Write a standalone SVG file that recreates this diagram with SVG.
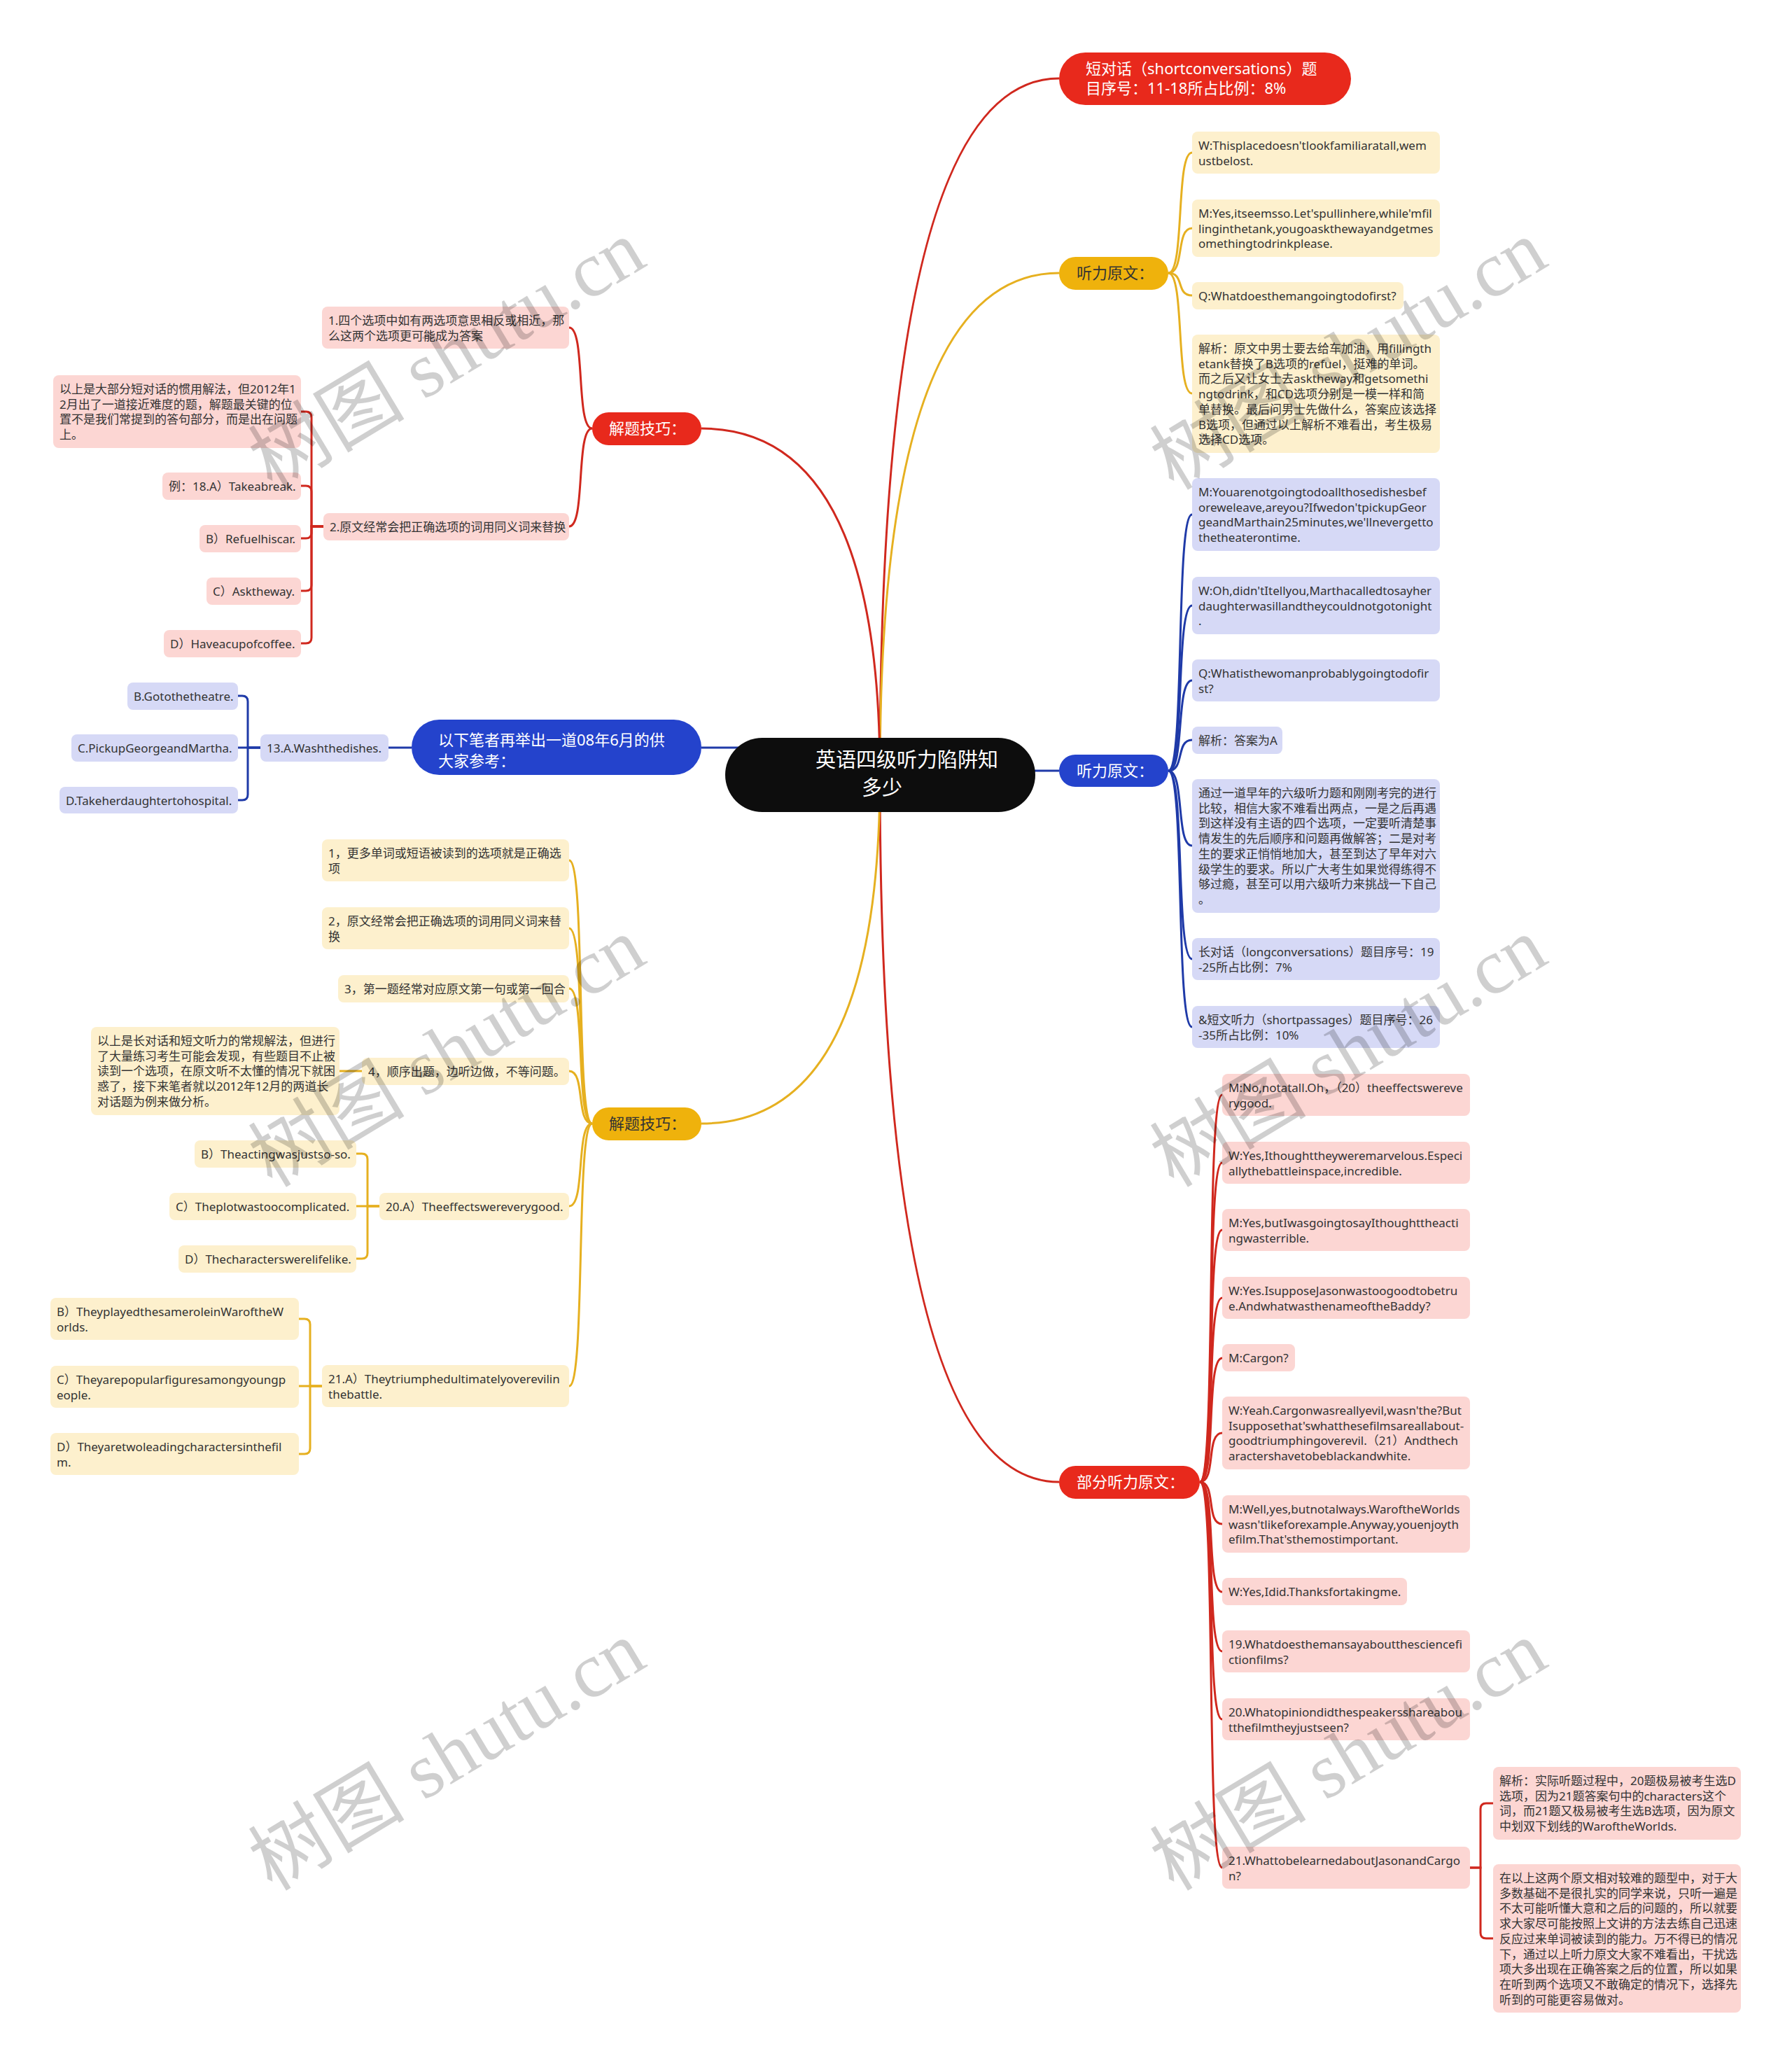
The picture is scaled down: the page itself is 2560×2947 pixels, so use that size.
<svg xmlns="http://www.w3.org/2000/svg" width="2560" height="2947" viewBox="0 0 2560 2947">
<style>
.t{font-family:"Noto Sans","Noto Sans CJK SC",sans-serif;font-size:17px;fill:#333}
.tw{font-family:"Noto Sans","Noto Sans CJK SC",sans-serif;font-size:22px;fill:#fff}
.td{font-family:"Noto Sans","Noto Sans CJK SC",sans-serif;font-size:22px;fill:#333}
.tc{font-family:"Noto Sans CJK SC",sans-serif;font-size:29px;fill:#fff}
.rb{fill:#fcd6d3}.yb{fill:#fdf0cd}.bb{fill:#d6d9f6}
.rn{fill:#e8291c}.yn{fill:#efb20c}.bn{fill:#2443cc}
.cr{fill:none;stroke:#d0281e;stroke-width:3}
.cy{fill:none;stroke:#e6b020;stroke-width:3}
.cb{fill:none;stroke:#1f3aa8;stroke-width:3}
.wm{font-family:"Liberation Serif","Noto Sans CJK SC",serif;font-size:112px;fill:#000;fill-opacity:0.19}
</style>
<rect width="2560" height="2947" fill="#fff"/>
<g id="connectors">
<path class="cr" d="M1257,1107 Q1257,112 1513,112" stroke="#c0261c"/>
<path class="cy" d="M1257,1107 Q1257,390 1513,390"/>
<path class="cr" d="M1257,1107 Q1257,2117 1513,2117"/>
<path class="cr" d="M1257,1107 Q1257,612 1002,612"/>
<path class="cy" d="M1257,1107 Q1257,1605 1002,1605"/>
<path class="cb" d="M1300,1101 H1513"/>
<path class="cb" d="M1002,1068 H1200"/>
<path class="cy" d="M1669,390 C1693,390 1679,218 1703,218"/>
<path class="cy" d="M1669,390 C1693,390 1679,326 1703,326"/>
<path class="cy" d="M1669,390 C1693,390 1679,422 1703,422"/>
<path class="cy" d="M1669,390 C1693,390 1679,562 1703,562"/>
<path class="cb" d="M1669,1101 C1693,1101 1679,735 1703,735"/>
<path class="cb" d="M1669,1101 C1693,1101 1679,865 1703,865"/>
<path class="cb" d="M1669,1101 C1693,1101 1679,972 1703,972"/>
<path class="cb" d="M1669,1101 C1693,1101 1679,1057 1703,1057"/>
<path class="cb" d="M1669,1101 C1693,1101 1679,1208 1703,1208"/>
<path class="cb" d="M1669,1101 C1693,1101 1679,1370 1703,1370"/>
<path class="cb" d="M1669,1101 C1693,1101 1679,1467 1703,1467"/>
<path class="cr" d="M1714,2117 C1738,2117 1722,1564 1746,1564"/>
<path class="cr" d="M1714,2117 C1738,2117 1722,1661 1746,1661"/>
<path class="cr" d="M1714,2117 C1738,2117 1722,1757 1746,1757"/>
<path class="cr" d="M1714,2117 C1738,2117 1722,1854 1746,1854"/>
<path class="cr" d="M1714,2117 C1738,2117 1722,1940 1746,1940"/>
<path class="cr" d="M1714,2117 C1738,2117 1722,2047 1746,2047"/>
<path class="cr" d="M1714,2117 C1738,2117 1722,2177 1746,2177"/>
<path class="cr" d="M1714,2117 C1738,2117 1722,2274 1746,2274"/>
<path class="cr" d="M1714,2117 C1738,2117 1722,2359 1746,2359"/>
<path class="cr" d="M1714,2117 C1738,2117 1722,2456 1746,2456"/>
<path class="cr" d="M1714,2117 C1738,2117 1722,2668 1746,2668"/>
<path class="cr" d="M2100,2668 H2115 V2584 Q2115,2576 2123,2576 H2133"/>
<path class="cr" d="M2100,2668 H2115 V2761 Q2115,2769 2123,2769 H2133"/>
<path class="cr" d="M846,612 C822,612 837,468 813,468"/>
<path class="cr" d="M846,612 C822,612 837,752 813,752"/>
<path class="cr" d="M462,752 H445 V596 Q445,588 437,588 H430"/>
<path class="cr" d="M462,752 H445 V702 Q445,694 437,694 H430"/>
<path class="cr" d="M462,752 H445 V761 Q445,769 437,769 H430"/>
<path class="cr" d="M462,752 H445 V836 Q445,844 437,844 H430"/>
<path class="cr" d="M462,752 H445 V911 Q445,919 437,919 H430"/>
<path class="cb" d="M588,1068 H555"/>
<path class="cb" d="M372,1068 H354 V1002 Q354,994 346,994 H340"/>
<path class="cb" d="M372,1068 H340"/>
<path class="cb" d="M372,1068 H354 V1135 Q354,1143 346,1143 H340"/>
<path class="cy" d="M846,1605 C822,1605 837,1229 813,1229"/>
<path class="cy" d="M846,1605 C822,1605 837,1326 813,1326"/>
<path class="cy" d="M846,1605 C822,1605 837,1412 813,1412"/>
<path class="cy" d="M846,1605 C822,1605 837,1530 813,1530"/>
<path class="cy" d="M846,1605 C822,1605 837,1723 813,1723"/>
<path class="cy" d="M846,1605 C822,1605 837,1980 813,1980"/>
<path class="cy" d="M517,1530 H485"/>
<path class="cy" d="M542,1723 H525 V1656 Q525,1648 517,1648 H509"/>
<path class="cy" d="M542,1723 H509"/>
<path class="cy" d="M542,1723 H525 V1790 Q525,1798 517,1798 H509"/>
<path class="cy" d="M460,1980 H443 V1892 Q443,1884 435,1884 H427"/>
<path class="cy" d="M460,1980 H427"/>
<path class="cy" d="M460,1980 H443 V2069 Q443,2077 435,2077 H427"/>
</g>

<g id="center">
<rect x="1036" y="1054" width="443" height="106" rx="53" fill="#0d0d0d"/>
<text class="tc" x="1165" y="1096">英语四级听力陷阱知</text>
<text class="tc" x="1231" y="1136">多少</text>
</g>

<g id="n-short">
<rect class="rn" x="1513" y="75" width="417" height="75" rx="37.5"/>
<text class="tw" x="1551" y="106">短对话（shortconversations）题<tspan x="1551" dy="28">目序号：11-18所占比例：8%</tspan></text>
</g>
<g id="n-ytop">
<rect class="yn" x="1513" y="367" width="156" height="47" rx="23.5"/>
<text class="td" x="1538" y="398">听力原文：</text>
</g>
<g id="yt1"><rect class="yb" x="1703" y="188" width="354" height="60" rx="8"/>
<text class="t" x="1712" y="214">W:Thisplacedoesn'tlookfamiliaratall,wem<tspan x="1712" dy="21.7">ustbelost.</tspan></text></g>
<g id="yt2"><rect class="yb" x="1703" y="285" width="354" height="82" rx="8"/>
<text class="t" x="1712" y="311">M:Yes,itseemsso.Let'spullinhere,while'mfil<tspan x="1712" dy="21.7">linginthetank,yougoaskthewayandgetmes</tspan><tspan x="1712" dy="21.7">omethingtodrinkplease.</tspan></text></g>
<g id="yt3"><rect class="yb" x="1703" y="403" width="302" height="39" rx="8"/>
<text class="t" x="1712" y="429">Q:Whatdoesthemangoingtodofirst?</text></g>
<g id="yt4"><rect class="yb" x="1703" y="478" width="354" height="169" rx="8"/>
<text class="t" x="1712" y="504">解析：原文中男士要去给车加油，用fillingth<tspan x="1712" dy="21.7">etank替换了B选项的refuel，挺难的单词。</tspan><tspan x="1712" dy="21.7">而之后又让女士去asktheway和getsomethi</tspan><tspan x="1712" dy="21.7">ngtodrink，和CD选项分别是一模一样和简</tspan><tspan x="1712" dy="21.7">单替换。最后问男士先做什么，答案应该选择</tspan><tspan x="1712" dy="21.7">B选项，但通过以上解析不难看出，考生极易</tspan><tspan x="1712" dy="21.7">选择CD选项。</tspan></text></g>

<g id="n-blue-r">
<rect class="bn" x="1513" y="1078" width="156" height="46" rx="23"/>
<text class="tw" x="1538" y="1109">听力原文：</text>
</g>
<g id="b1"><rect class="bb" x="1703" y="683" width="354" height="104" rx="8"/>
<text class="t" x="1712" y="709">M:Youarenotgoingtodoallthosedishesbef<tspan x="1712" dy="21.7">oreweleave,areyou?Ifwedon'tpickupGeor</tspan><tspan x="1712" dy="21.7">geandMarthain25minutes,we'llnevergetto</tspan><tspan x="1712" dy="21.7">thetheaterontime.</tspan></text></g>
<g id="b2"><rect class="bb" x="1703" y="824" width="354" height="82" rx="8"/>
<text class="t" x="1712" y="850">W:Oh,didn'tItellyou,Marthacalledtosayher<tspan x="1712" dy="21.7">daughterwasillandtheycouldnotgotonight</tspan><tspan x="1712" dy="21.7">.</tspan></text></g>
<g id="b3"><rect class="bb" x="1703" y="942" width="354" height="60" rx="8"/>
<text class="t" x="1712" y="968">Q:Whatisthewomanprobablygoingtodofir<tspan x="1712" dy="21.7">st?</tspan></text></g>
<g id="b4"><rect class="bb" x="1703" y="1038" width="129" height="39" rx="8"/>
<text class="t" x="1712" y="1064">解析：答案为A</text></g>
<g id="b5"><rect class="bb" x="1703" y="1113" width="354" height="191" rx="8"/>
<text class="t" x="1712" y="1139">通过一道早年的六级听力题和刚刚考完的进行<tspan x="1712" dy="21.7">比较，相信大家不难看出两点，一是之后再遇</tspan><tspan x="1712" dy="21.7">到这样没有主语的四个选项，一定要听清楚事</tspan><tspan x="1712" dy="21.7">情发生的先后顺序和问题再做解答；二是对考</tspan><tspan x="1712" dy="21.7">生的要求正悄悄地加大，甚至到达了早年对六</tspan><tspan x="1712" dy="21.7">级学生的要求。所以广大考生如果觉得练得不</tspan><tspan x="1712" dy="21.7">够过瘾，甚至可以用六级听力来挑战一下自己</tspan><tspan x="1712" dy="21.7">。</tspan></text></g>
<g id="b6"><rect class="bb" x="1703" y="1340" width="354" height="60" rx="8"/>
<text class="t" x="1712" y="1366">长对话（longconversations）题目序号：19<tspan x="1712" dy="21.7">-25所占比例：7%</tspan></text></g>
<g id="b7"><rect class="bb" x="1703" y="1437" width="354" height="60" rx="8"/>
<text class="t" x="1712" y="1463">&amp;短文听力（shortpassages）题目序号：26<tspan x="1712" dy="21.7">-35所占比例：10%</tspan></text></g>

<g id="n-part">
<rect class="rn" x="1513" y="2094" width="201" height="47" rx="23.5"/>
<text class="tw" x="1538" y="2125">部分听力原文：</text>
</g>
<g id="r1"><rect class="rb" x="1746" y="1534" width="354" height="60" rx="8"/>
<text class="t" x="1755" y="1560">M:No,notatall.Oh，（20）theeffectswereve<tspan x="1755" dy="21.7">rygood.</tspan></text></g>
<g id="r2"><rect class="rb" x="1746" y="1631" width="354" height="60" rx="8"/>
<text class="t" x="1755" y="1657">W:Yes,Ithoughttheyweremarvelous.Especi<tspan x="1755" dy="21.7">allythebattleinspace,incredible.</tspan></text></g>
<g id="r3"><rect class="rb" x="1746" y="1727" width="354" height="60" rx="8"/>
<text class="t" x="1755" y="1753">M:Yes,butIwasgoingtosayIthoughttheacti<tspan x="1755" dy="21.7">ngwasterrible.</tspan></text></g>
<g id="r4"><rect class="rb" x="1746" y="1824" width="354" height="60" rx="8"/>
<text class="t" x="1755" y="1850">W:Yes.IsupposeJasonwastoogoodtobetru<tspan x="1755" dy="21.7">e.AndwhatwasthenameoftheBaddy?</tspan></text></g>
<g id="r5"><rect class="rb" x="1746" y="1920" width="104" height="39" rx="8"/>
<text class="t" x="1755" y="1946">M:Cargon?</text></g>
<g id="r6"><rect class="rb" x="1746" y="1995" width="354" height="104" rx="8"/>
<text class="t" x="1755" y="2021">W:Yeah.Cargonwasreallyevil,wasn'the?But<tspan x="1755" dy="21.7">Isupposethat'swhatthesefilmsareallabout-</tspan><tspan x="1755" dy="21.7">goodtriumphingoverevil.（21）Andthech</tspan><tspan x="1755" dy="21.7">aractershavetobeblackandwhite.</tspan></text></g>
<g id="r7"><rect class="rb" x="1746" y="2136" width="354" height="82" rx="8"/>
<text class="t" x="1755" y="2162">M:Well,yes,butnotalways.WaroftheWorlds<tspan x="1755" dy="21.7">wasn'tlikeforexample.Anyway,youenjoyth</tspan><tspan x="1755" dy="21.7">efilm.That'sthemostimportant.</tspan></text></g>
<g id="r8"><rect class="rb" x="1746" y="2254" width="264" height="39" rx="8"/>
<text class="t" x="1755" y="2280">W:Yes,Idid.Thanksfortakingme.</text></g>
<g id="r9"><rect class="rb" x="1746" y="2329" width="354" height="60" rx="8"/>
<text class="t" x="1755" y="2355">19.Whatdoesthemansayaboutthesciencefi<tspan x="1755" dy="21.7">ctionfilms?</tspan></text></g>
<g id="r10"><rect class="rb" x="1746" y="2426" width="354" height="60" rx="8"/>
<text class="t" x="1755" y="2452">20.Whatopiniondidthespeakersshareabou<tspan x="1755" dy="21.7">tthefilmtheyjustseen?</tspan></text></g>
<g id="r11"><rect class="rb" x="1746" y="2638" width="354" height="60" rx="8"/>
<text class="t" x="1755" y="2664">21.WhattobelearnedaboutJasonandCargo<tspan x="1755" dy="21.7">n?</tspan></text></g>
<g id="c1"><rect class="rb" x="2133" y="2524" width="354" height="104" rx="8"/>
<text class="t" x="2142" y="2550">解析：实际听题过程中，20题极易被考生选D<tspan x="2142" dy="21.7">选项，因为21题答案句中的characters这个</tspan><tspan x="2142" dy="21.7">词，而21题又极易被考生选B选项，因为原文</tspan><tspan x="2142" dy="21.7">中划双下划线的WaroftheWorlds.</tspan></text></g>
<g id="c2"><rect class="rb" x="2133" y="2663" width="354" height="212" rx="8"/>
<text class="t" x="2142" y="2689">在以上这两个原文相对较难的题型中，对于大<tspan x="2142" dy="21.7">多数基础不是很扎实的同学来说，只听一遍是</tspan><tspan x="2142" dy="21.7">不太可能听懂大意和之后的问题的，所以就要</tspan><tspan x="2142" dy="21.7">求大家尽可能按照上文讲的方法去练自己迅速</tspan><tspan x="2142" dy="21.7">反应过来单词被读到的能力。万不得已的情况</tspan><tspan x="2142" dy="21.7">下，通过以上听力原文大家不难看出，干扰选</tspan><tspan x="2142" dy="21.7">项大多出现在正确答案之后的位置，所以如果</tspan><tspan x="2142" dy="21.7">在听到两个选项又不敢确定的情况下，选择先</tspan><tspan x="2142" dy="21.7">听到的可能更容易做对。</tspan></text></g>

<g id="n-tips-red">
<rect class="rn" x="846" y="589" width="156" height="47" rx="23.5"/>
<text class="tw" x="870" y="620">解题技巧：</text>
</g>
<g id="l1"><rect class="rb" x="460" y="438" width="353" height="60" rx="8"/>
<text class="t" x="469" y="464">1.四个选项中如有两选项意思相反或相近，那<tspan x="469" dy="21.7">么这两个选项更可能成为答案</tspan></text></g>
<g id="l2"><rect class="rb" x="462" y="733" width="351" height="39" rx="8"/>
<text class="t" x="471" y="759">2.原文经常会把正确选项的词用同义词来替换</text></g>
<g id="k1"><rect class="rb" x="76" y="536" width="354" height="104" rx="8"/>
<text class="t" x="85" y="562">以上是大部分短对话的惯用解法，但2012年1<tspan x="85" dy="21.7">2月出了一道接近难度的题，解题最关键的位</tspan><tspan x="85" dy="21.7">置不是我们常提到的答句部分，而是出在问题</tspan><tspan x="85" dy="21.7">上。</tspan></text></g>
<g id="k2"><rect class="rb" x="232" y="675" width="198" height="39" rx="8"/>
<text class="t" x="241" y="701">例：18.A）Takeabreak.</text></g>
<g id="k3"><rect class="rb" x="285" y="750" width="145" height="39" rx="8"/>
<text class="t" x="294" y="776">B）Refuelhiscar.</text></g>
<g id="k4"><rect class="rb" x="295" y="825" width="135" height="39" rx="8"/>
<text class="t" x="304" y="851">C）Asktheway.</text></g>
<g id="k5"><rect class="rb" x="234" y="900" width="196" height="39" rx="8"/>
<text class="t" x="243" y="926">D）Haveacupofcoffee.</text></g>

<g id="n-blue-l">
<rect class="bn" x="588" y="1028" width="414" height="79" rx="39.5"/>
<text class="tw" x="626" y="1065">以下笔者再举出一道08年6月的供<tspan x="626" dy="30">大家参考：</tspan></text>
</g>
<g id="n13"><rect class="bb" x="372" y="1049" width="183" height="39" rx="8"/>
<text class="t" x="381" y="1075">13.A.Washthedishes.</text></g>
<g id="nb"><rect class="bb" x="182" y="975" width="158" height="39" rx="8"/>
<text class="t" x="191" y="1001">B.Gotothetheatre.</text></g>
<g id="nc"><rect class="bb" x="102" y="1049" width="238" height="39" rx="8"/>
<text class="t" x="111" y="1075">C.PickupGeorgeandMartha.</text></g>
<g id="nd"><rect class="bb" x="85" y="1124" width="255" height="38" rx="8"/>
<text class="t" x="94" y="1150">D.Takeherdaughtertohospital.</text></g>

<g id="n-tips-yellow">
<rect class="yn" x="846" y="1582" width="156" height="47" rx="23.5"/>
<text class="td" x="870" y="1613">解题技巧：</text>
</g>
<g id="y1"><rect class="yb" x="460" y="1199" width="353" height="60" rx="8"/>
<text class="t" x="469" y="1225">1，更多单词或短语被读到的选项就是正确选<tspan x="469" dy="21.7">项</tspan></text></g>
<g id="y2"><rect class="yb" x="460" y="1296" width="353" height="60" rx="8"/>
<text class="t" x="469" y="1322">2，原文经常会把正确选项的词用同义词来替<tspan x="469" dy="21.7">换</tspan></text></g>
<g id="y3"><rect class="yb" x="483" y="1393" width="330" height="39" rx="8"/>
<text class="t" x="492" y="1419">3，第一题经常对应原文第一句或第一回合</text></g>
<g id="y4"><rect class="yb" x="517" y="1511" width="296" height="39" rx="8"/>
<text class="t" x="526" y="1537">4，顺序出题，边听边做，不等问题。</text></g>
<g id="y4c"><rect class="yb" x="130" y="1467" width="355" height="126" rx="8"/>
<text class="t" x="139" y="1493">以上是长对话和短文听力的常规解法，但进行<tspan x="139" dy="21.7">了大量练习考生可能会发现，有些题目不止被</tspan><tspan x="139" dy="21.7">读到一个选项，在原文听不太懂的情况下就困</tspan><tspan x="139" dy="21.7">惑了，接下来笔者就以2012年12月的两道长</tspan><tspan x="139" dy="21.7">对话题为例来做分析。</tspan></text></g>
<g id="y5"><rect class="yb" x="542" y="1704" width="271" height="39" rx="8"/>
<text class="t" x="551" y="1730">20.A）Theeffectswereverygood.</text></g>
<g id="y5b"><rect class="yb" x="278" y="1629" width="231" height="39" rx="8"/>
<text class="t" x="287" y="1655">B）Theactingwasjustso-so.</text></g>
<g id="y5c"><rect class="yb" x="242" y="1704" width="267" height="39" rx="8"/>
<text class="t" x="251" y="1730">C）Theplotwastoocomplicated.</text></g>
<g id="y5d"><rect class="yb" x="255" y="1779" width="254" height="39" rx="8"/>
<text class="t" x="264" y="1805">D）Thecharacterswerelifelike.</text></g>
<g id="y6"><rect class="yb" x="460" y="1950" width="353" height="60" rx="8"/>
<text class="t" x="469" y="1976">21.A）Theytriumphedultimatelyoverevilin<tspan x="469" dy="21.7">thebattle.</tspan></text></g>
<g id="y6b"><rect class="yb" x="72" y="1854" width="355" height="60" rx="8"/>
<text class="t" x="81" y="1880">B）TheyplayedthesameroleinWaroftheW<tspan x="81" dy="21.7">orlds.</tspan></text></g>
<g id="y6c"><rect class="yb" x="72" y="1951" width="355" height="60" rx="8"/>
<text class="t" x="81" y="1977">C）Theyarepopularfiguresamongyoungp<tspan x="81" dy="21.7">eople.</tspan></text></g>
<g id="y6d"><rect class="yb" x="72" y="2047" width="355" height="60" rx="8"/>
<text class="t" x="81" y="2073">D）Theyaretwoleadingcharactersinthefil<tspan x="81" dy="21.7">m.</tspan></text></g>

<g id="watermark">
<text class="wm" x="639" y="545" text-anchor="middle" transform="rotate(-31 639 508)">树图 shutu.cn</text>
<text class="wm" x="1927" y="545" text-anchor="middle" transform="rotate(-31 1927 508)">树图 shutu.cn</text>
<text class="wm" x="639" y="1541" text-anchor="middle" transform="rotate(-31 639 1504)">树图 shutu.cn</text>
<text class="wm" x="1927" y="1541" text-anchor="middle" transform="rotate(-31 1927 1504)">树图 shutu.cn</text>
<text class="wm" x="639" y="2546" text-anchor="middle" transform="rotate(-31 639 2509)">树图 shutu.cn</text>
<text class="wm" x="1927" y="2546" text-anchor="middle" transform="rotate(-31 1927 2509)">树图 shutu.cn</text>
</g>
</svg>
